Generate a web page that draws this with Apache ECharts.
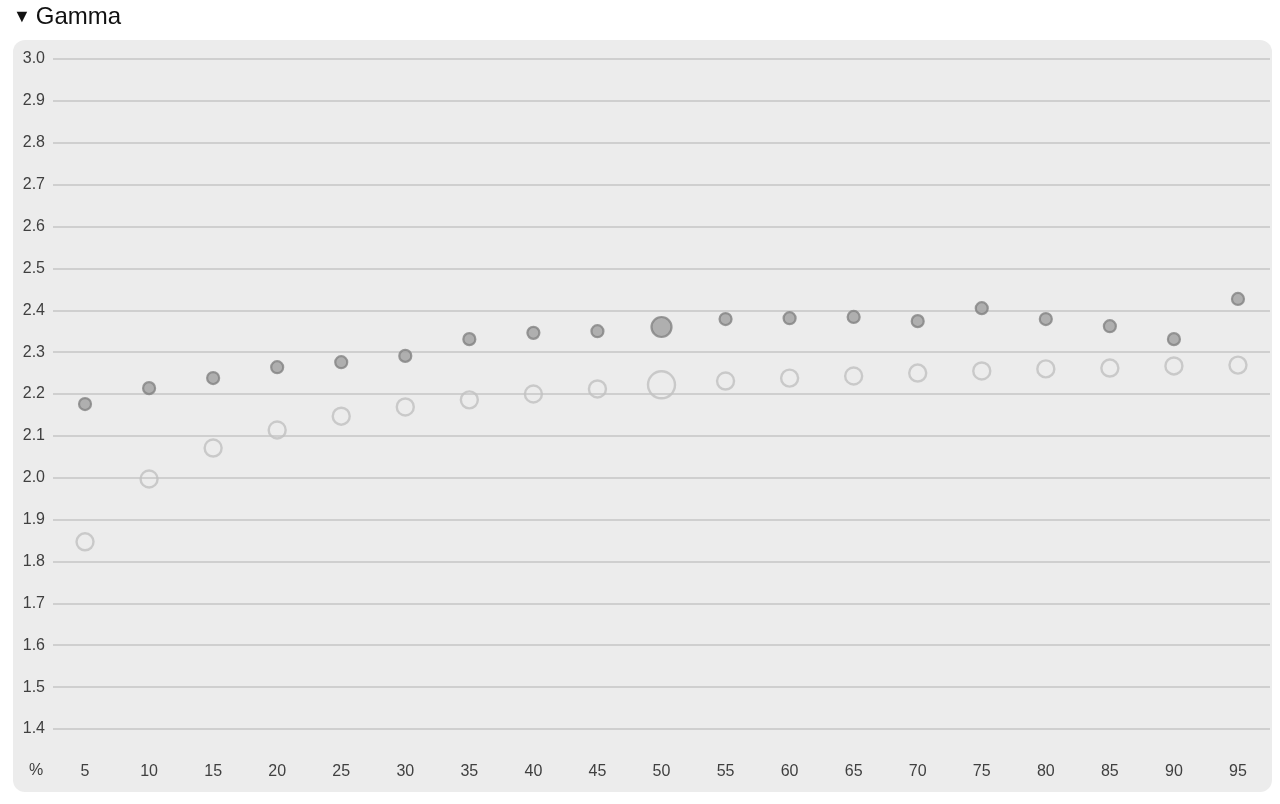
<!DOCTYPE html>
<html><head><meta charset="utf-8">
<script src="https://cdn.jsdelivr.net/npm/echarts@6/dist/echarts.min.js"></script>
<style>html,body{margin:0;padding:0;background:#fff;}#c{width:1280px;height:804px;}</style>
</head><body><div id="c"></div>
<script>
const categories = ['5','10','15','20','25','30','35','40','45','50','55','60','65','70','75','80','85','90','95'];
const darkValues = [2.176,2.214,2.238,2.264,2.276,2.291,2.331,2.346,2.350,2.360,2.379,2.381,2.384,2.374,2.405,2.379,2.362,2.331,2.427];
const lightValues = [1.847,1.997,2.071,2.114,2.147,2.169,2.186,2.200,2.212,2.222,2.231,2.238,2.243,2.250,2.255,2.260,2.262,2.267,2.269];
const highlightIndex = 9;
const titleArrow = '▼';
const titleText = 'Gamma';
const unitLabel = '%';

const chart = echarts.init(document.getElementById('c'), null, {renderer:'canvas'});
const font = 'Arial, "Liberation Sans", sans-serif';
chart.setOption({
  animation: false,
  backgroundColor: '#ffffff',
  title: {
    text: '{a|' + titleArrow + '} {b|' + titleText + '}', left: 8, top: 0,
    textStyle:{fontWeight:'normal', rich:{
      a:{fontFamily: font, fontSize: 18, fontWeight:'normal', color:'#111', padding:[1,0,0,0]},
      b:{fontFamily: font, fontSize: 24, fontWeight:'normal', color:'#111'}
    }}
  },
  graphic: [
    {type:'rect', z:-10, shape:{x:13, y:40, width:1259, height:752, r:12}, style:{fill:'#ececec'}},
    {type:'text', z:10, left: 29, top: 763, style:{text: unitLabel, font:'16px ' + font, fill:'#404040'}}
  ],
  grid: {left: 53, right: 10, top: 59, bottom: 75},
  xAxis: {
    type:'category', data: categories, boundaryGap: true,
    axisLine:{show:false}, axisTick:{show:false}, splitLine:{show:false},
    axisLabel:{margin: 35, fontSize: 16, color:'#404040', fontFamily: font}
  },
  yAxis: {
    type:'value', min: 1.4, max: 3.0, interval: 0.1,
    axisLine:{show:false}, axisTick:{show:false},
    splitLine:{lineStyle:{color:'#c6c6c6', width:1.5}},
    axisLabel:{margin: 8, fontSize: 16, color:'#404040', fontFamily: font, formatter: v => v.toFixed(1)}
  },
  series: [
    {
      type:'scatter', data: lightValues, z: 2,
      symbolSize: (v, p) => p.dataIndex === highlightIndex ? 27 : 17,
      itemStyle:{color:'rgba(236,236,236,0)', borderColor:'#c0c0c0', borderWidth: 2.4},
      emphasis:{disabled:true}
    },
    {
      type:'scatter', data: darkValues, z: 3,
      symbolSize: (v, p) => p.dataIndex === highlightIndex ? 20 : 12,
      itemStyle:{color:'#a0a0a0', borderColor:'#828282', borderWidth: 2.2},
      emphasis:{disabled:true}
    }
  ]
});
</script></body></html>
